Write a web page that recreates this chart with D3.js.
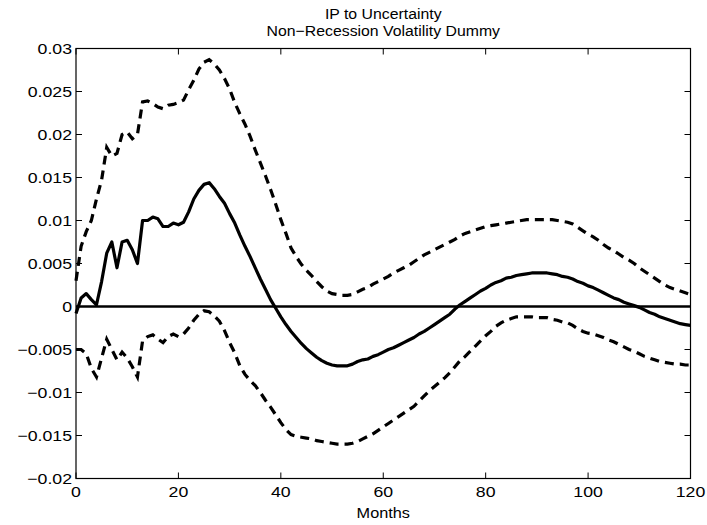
<!DOCTYPE html>
<html>
<head>
<meta charset="utf-8">
<script src="https://cdn.jsdelivr.net/npm/d3@7"></script>
<style>
  html, body { margin: 0; padding: 0; background: #fff; }
  text { font-family: "Liberation Sans", Arial, Helvetica, sans-serif; fill: #000; }
</style>
</head>
<body>
<svg id="chart" width="707" height="525"></svg>
<script>
const titleLines = ["IP to Uncertainty", "Non\u2212Recession Volatility Dummy"];
const xLabel = "Months";
const xTicks = [0, 20, 40, 60, 80, 100, 120];
const yTicks = [-0.02, -0.015, -0.01, -0.005, 0, 0.005, 0.01, 0.015, 0.02, 0.025, 0.03];
const yTickLabels = ["\u22120.02", "\u22120.015", "\u22120.01", "\u22120.005", "0", "0.005", "0.01", "0.015", "0.02", "0.025", "0.03"];

// Impulse response (solid), months 0..120
const irf = [
 -0.0008, 0.0010, 0.0015, 0.0008, 0.0002, 0.0029, 0.0062, 0.0075, 0.0045, 0.0075,
  0.0077, 0.0066, 0.0050, 0.0100, 0.0100, 0.0104, 0.0102, 0.0093, 0.0093, 0.0097,
  0.0095, 0.0098, 0.0110, 0.0125, 0.0135, 0.0142, 0.0144, 0.0137, 0.0128, 0.0120,
  0.0108, 0.0097, 0.0083, 0.0070, 0.0058, 0.0045, 0.0032, 0.0020, 0.0008, -0.0002,
 -0.0012, -0.0021, -0.0029, -0.0036, -0.0043, -0.0049, -0.0054, -0.0059, -0.0063, -0.0066,
 -0.0068, -0.0069, -0.0069, -0.0069, -0.0067, -0.0064, -0.0062, -0.0061, -0.0058, -0.0056,
 -0.0053, -0.0050, -0.0048, -0.0045, -0.0042, -0.0039, -0.0036, -0.0032, -0.0029, -0.0025,
 -0.0021, -0.0017, -0.0013, -0.0009, -0.0003, 0.0002, 0.0006, 0.0010, 0.0014, 0.0018,
  0.0021, 0.0025, 0.0028, 0.0030, 0.0033, 0.0034, 0.0036, 0.0037, 0.0038, 0.0039,
  0.0039, 0.0039, 0.0039, 0.0038, 0.0037, 0.0035, 0.0034, 0.0032, 0.0029, 0.0027,
  0.0024, 0.0022, 0.0019, 0.0016, 0.0013, 0.0010, 0.0008, 0.0005, 0.0003, 0.0001,
 -0.0001, -0.0004, -0.0007, -0.0009, -0.0012, -0.0014, -0.0016, -0.0018, -0.0020, -0.0021,
 -0.0022
];

// Upper confidence band (dashed), months 0..120
const upper = [
  0.0030, 0.0070, 0.0087, 0.0100, 0.0125, 0.0147, 0.0185, 0.0175, 0.0178, 0.0200,
  0.0203, 0.0195, 0.0200, 0.0238, 0.0239, 0.0236, 0.0232, 0.0230, 0.0234, 0.0235,
  0.0237, 0.0240, 0.0252, 0.0263, 0.0276, 0.0284, 0.0287, 0.0282, 0.0275, 0.0265,
  0.0253, 0.0237, 0.0224, 0.0212, 0.0198, 0.0182, 0.0167, 0.0152, 0.0136, 0.0119,
  0.0101, 0.0085, 0.0068, 0.0058, 0.0049, 0.0042, 0.0036, 0.0029, 0.0023, 0.0018,
  0.0015, 0.0014, 0.0013, 0.0013, 0.0014, 0.0017, 0.0020, 0.0022, 0.0026, 0.0029,
  0.0032, 0.0035, 0.0039, 0.0042, 0.0045, 0.0048, 0.0052, 0.0056, 0.0060, 0.0063,
  0.0066, 0.0069, 0.0072, 0.0075, 0.0078, 0.0082, 0.0085, 0.0087, 0.0089, 0.0091,
  0.0093, 0.0094, 0.0095, 0.0096, 0.0097, 0.0098, 0.0099, 0.0100, 0.0101, 0.0101,
  0.0101, 0.0101, 0.0101, 0.0101, 0.0100, 0.0099, 0.0098, 0.0096, 0.0092, 0.0088,
  0.0084, 0.0081, 0.0077, 0.0072, 0.0068, 0.0065, 0.0061, 0.0057, 0.0054, 0.0050,
  0.0045, 0.0041, 0.0037, 0.0033, 0.0029, 0.0025, 0.0022, 0.0020, 0.0018, 0.0016,
  0.0014
];

// Lower confidence band (dashed), months 0..120
const lower = [
 -0.0050, -0.0050, -0.0055, -0.0072, -0.0082, -0.0060, -0.0038, -0.0050, -0.0062, -0.0053,
 -0.0060, -0.0070, -0.0082, -0.0040, -0.0035, -0.0033, -0.0038, -0.0042, -0.0035, -0.0032,
 -0.0035, -0.0032, -0.0025, -0.0016, -0.0009, -0.0005, -0.0006, -0.0011, -0.0017, -0.0028,
 -0.0042, -0.0054, -0.0069, -0.0079, -0.0086, -0.0092, -0.0100, -0.0109, -0.0117, -0.0126,
 -0.0135, -0.0143, -0.0149, -0.0151, -0.0152, -0.0153, -0.0154, -0.0156, -0.0157, -0.0158,
 -0.0159, -0.0160, -0.0160, -0.0160, -0.0159, -0.0157, -0.0154, -0.0151, -0.0148, -0.0144,
 -0.0140, -0.0136, -0.0132, -0.0128, -0.0124, -0.0120, -0.0116, -0.0110, -0.0104, -0.0098,
 -0.0093, -0.0088, -0.0083, -0.0077, -0.0070, -0.0063, -0.0058, -0.0052, -0.0046, -0.0040,
 -0.0034, -0.0029, -0.0023, -0.0019, -0.0016, -0.0014, -0.0012, -0.0012, -0.0012, -0.0012,
 -0.0013, -0.0013, -0.0013, -0.0015, -0.0016, -0.0018, -0.0019, -0.0022, -0.0026, -0.0029,
 -0.0031, -0.0032, -0.0034, -0.0036, -0.0039, -0.0041, -0.0044, -0.0047, -0.0050, -0.0052,
 -0.0055, -0.0058, -0.0060, -0.0062, -0.0064, -0.0065, -0.0066, -0.0067, -0.0067, -0.0068,
 -0.0068
];

const months = irf.map((_, i) => i);

const svg = d3.select("#chart");
const plotLeft = 76, plotRight = 690.5, plotTop = 48.5, plotBottom = 478.5;
const x = d3.scaleLinear().domain([0, 120]).range([plotLeft, plotRight]);
const y = d3.scaleLinear().domain([-0.02, 0.03]).range([plotBottom, plotTop]);

const fontSize = 15;
const sx = 1.18;

// Frame
svg.append("rect")
  .attr("x", plotLeft).attr("y", plotTop)
  .attr("width", plotRight - plotLeft).attr("height", plotBottom - plotTop)
  .attr("fill", "none").attr("stroke", "#000").attr("stroke-width", 1.2);

const tickLen = 6;
// x ticks (inward, bottom and top)
const xt = svg.append("g");
xTicks.forEach(t => {
  const px = x(t);
  xt.append("line").attr("x1", px).attr("x2", px).attr("y1", plotBottom).attr("y2", plotBottom - tickLen)
    .attr("stroke", "#000").attr("stroke-width", 1);
  xt.append("line").attr("x1", px).attr("x2", px).attr("y1", plotTop).attr("y2", plotTop + tickLen)
    .attr("stroke", "#000").attr("stroke-width", 1);
  xt.append("text")
    .attr("transform", `translate(${px},${plotBottom + 18}) scale(${sx},1)`)
    .attr("text-anchor", "middle")
    .attr("font-size", fontSize)
    .text(String(t));
});

// y ticks (inward, left and right)
const yt = svg.append("g");
yTicks.forEach((t, i) => {
  const py = y(t);
  yt.append("line").attr("x1", plotLeft).attr("x2", plotLeft + tickLen).attr("y1", py).attr("y2", py)
    .attr("stroke", "#000").attr("stroke-width", 1);
  yt.append("line").attr("x1", plotRight).attr("x2", plotRight - tickLen).attr("y1", py).attr("y2", py)
    .attr("stroke", "#000").attr("stroke-width", 1);
  yt.append("text")
    .attr("transform", `translate(${plotLeft - 4},${py + 5}) scale(${sx},1)`)
    .attr("text-anchor", "end")
    .attr("font-size", fontSize)
    .text(yTickLabels[i]);
});

// Axis label
svg.append("text")
  .attr("transform", `translate(${(plotLeft + plotRight) / 2},${plotBottom + 39}) scale(1.1,1)`)
  .attr("text-anchor", "middle")
  .attr("font-size", 14.8)
  .text(xLabel);

// Title
titleLines.forEach((t, i) => {
  svg.append("text")
    .attr("transform", `translate(${(plotLeft + plotRight) / 2},${19 + i * 17}) scale(1.07,1)`)
    .attr("text-anchor", "middle")
    .attr("font-size", 14.8)
    .text(t);
});

// Zero line
svg.append("line")
  .attr("x1", x(0)).attr("x2", x(120)).attr("y1", y(0)).attr("y2", y(0))
  .attr("stroke", "#000").attr("stroke-width", 2.6);

const line = d3.line().x((d, i) => x(months[i])).y(d => y(d));

svg.append("path").datum(upper)
  .attr("d", line).attr("fill", "none").attr("stroke", "#000")
  .attr("stroke-width", 3.2).attr("stroke-dasharray", "9,6");
svg.append("path").datum(lower)
  .attr("d", line).attr("fill", "none").attr("stroke", "#000")
  .attr("stroke-width", 3.2).attr("stroke-dasharray", "9,6");
svg.append("path").datum(irf)
  .attr("d", line).attr("fill", "none").attr("stroke", "#000")
  .attr("stroke-width", 3.2).attr("stroke-linejoin", "round");
</script>
</body>
</html>
